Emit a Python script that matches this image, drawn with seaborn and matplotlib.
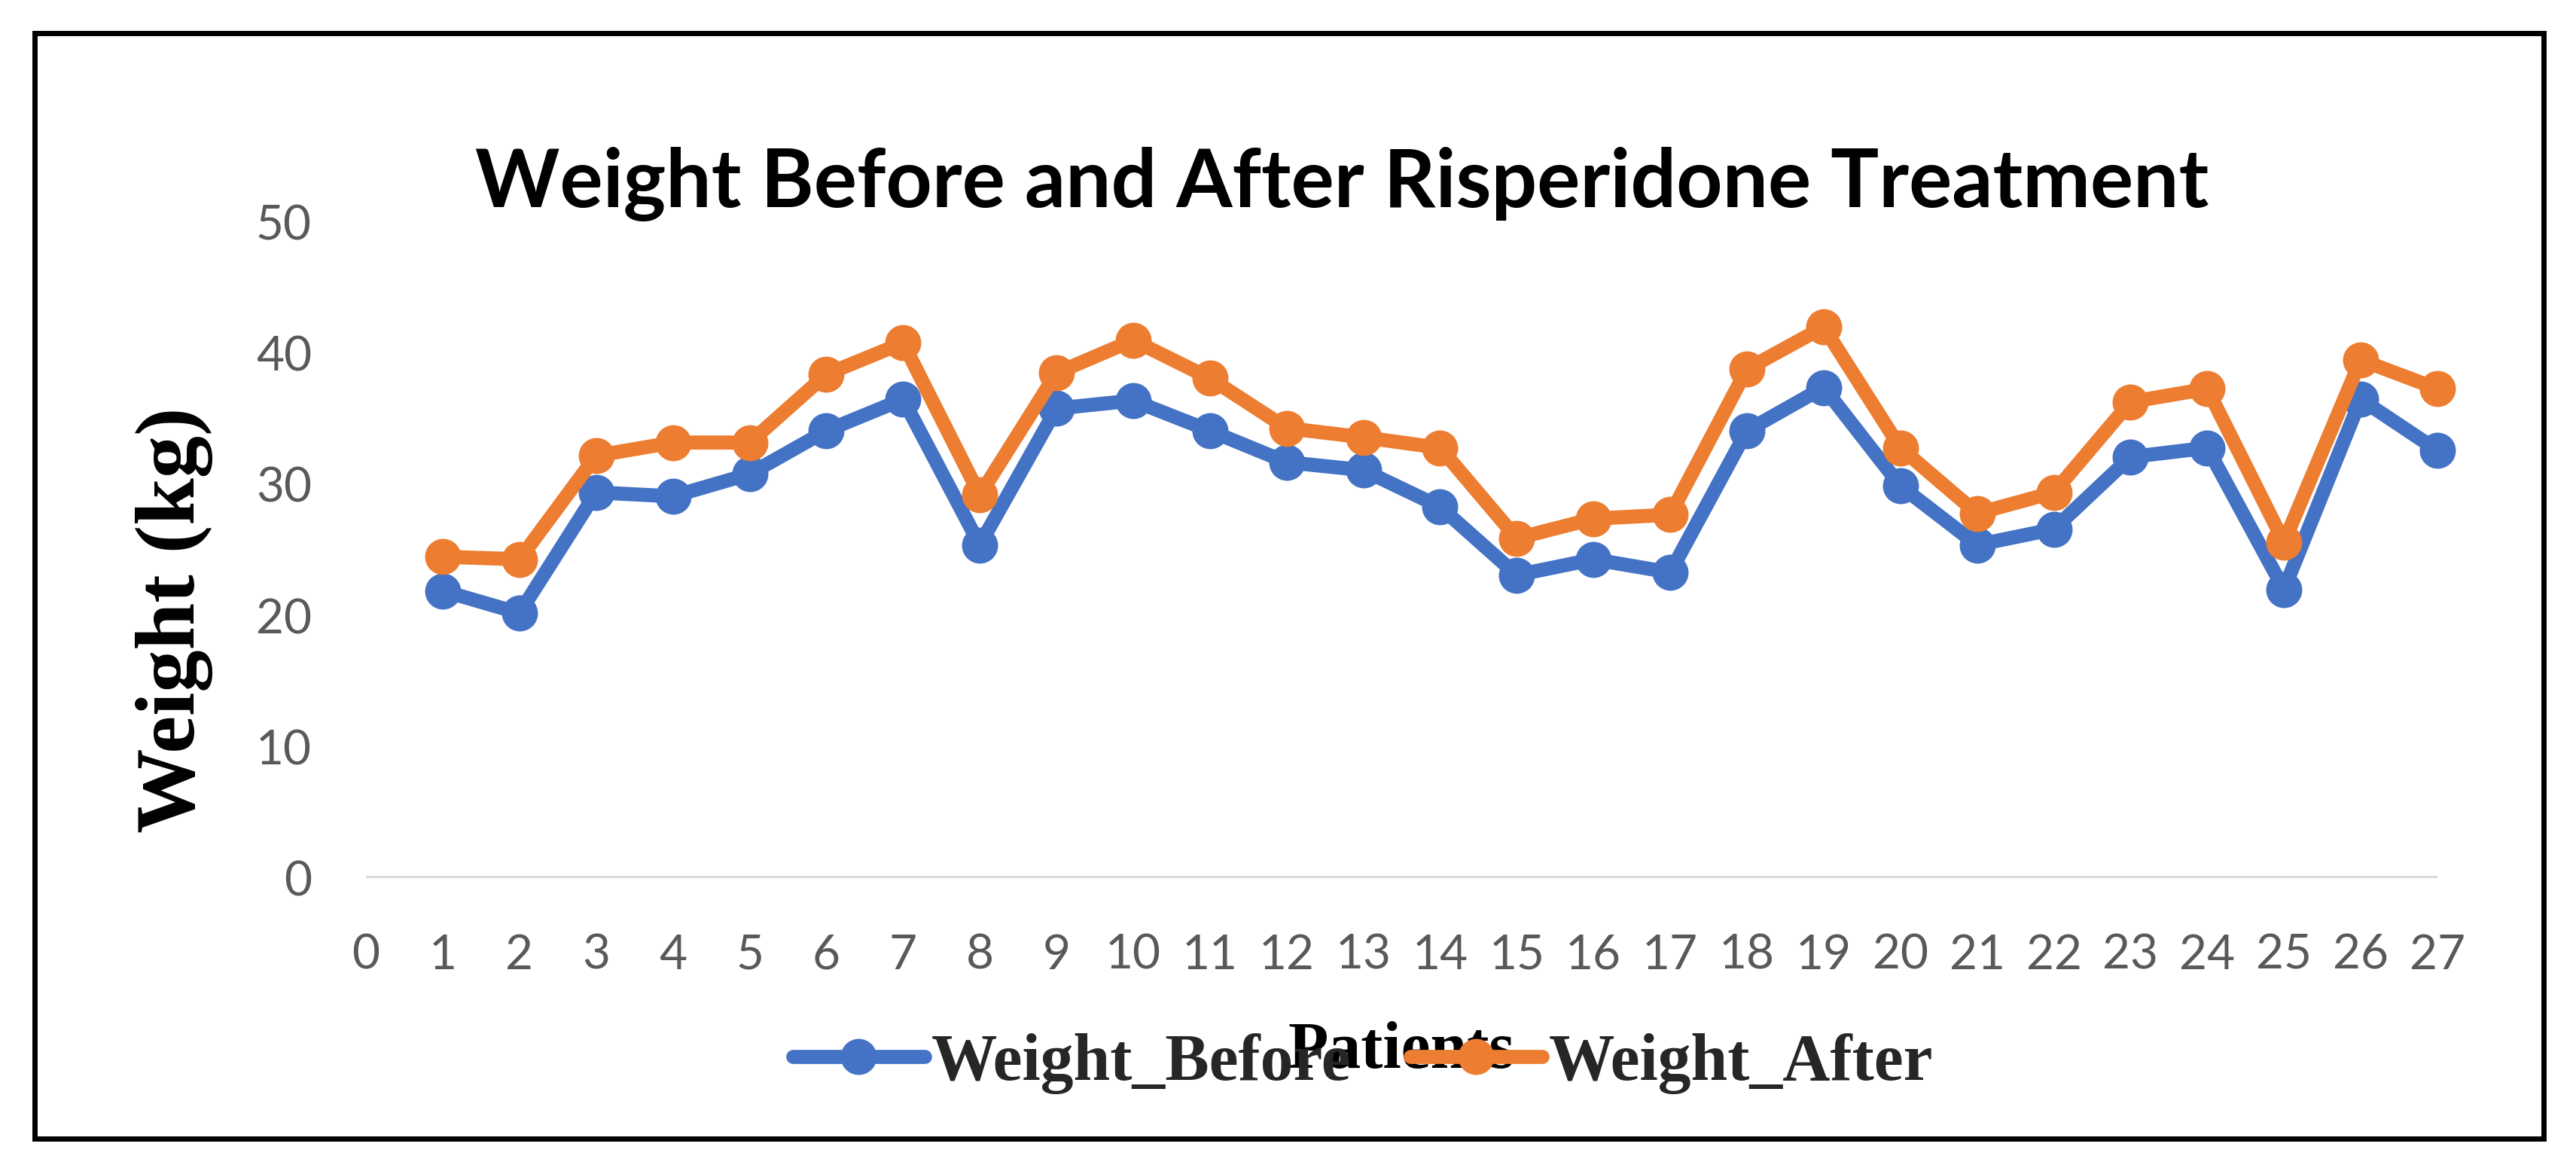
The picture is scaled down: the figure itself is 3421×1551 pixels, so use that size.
import pandas as pd
import seaborn as sns
import matplotlib.pyplot as plt
from matplotlib.lines import Line2D
from matplotlib.patches import Rectangle

patients = list(range(1, 28))
weight_before = [21.9, 20.2, 29.4, 29.1, 30.8, 34.1, 36.5, 25.4, 35.8, 36.4,
                 34.1, 31.7, 31.1, 28.3, 23.1, 24.3, 23.3, 34.1, 37.4, 29.9,
                 25.4, 26.6, 32.1, 32.8, 22.0, 36.5, 32.6]
weight_after = [24.5, 24.3, 32.2, 33.2, 33.2, 38.4, 40.8, 29.2, 38.5, 41.0,
                38.1, 34.3, 33.6, 32.8, 25.9, 27.4, 27.7, 38.8, 42.0, 32.8,
                27.8, 29.4, 36.3, 37.3, 25.6, 39.5, 37.3]
series_names = ['Weight_Before', 'Weight_After']
colors = {'Weight_Before': '#4472C4', 'Weight_After': '#ED7D31'}

df = pd.DataFrame({
    'Patient': patients * 2,
    'Weight': weight_before + weight_after,
    'Series': ['Weight_Before'] * len(patients) + ['Weight_After'] * len(patients),
})

sns.set_style("white")
plt.rcParams['font.family'] = ['Lato', 'DejaVu Sans']

fig = plt.figure(figsize=(34.21, 15.51), dpi=100)
ax = fig.add_axes([0.1421, 0.2482, 0.8041, 0.5616])

ax.axhline(0, color='#D9D9D9', lw=5, zorder=1)
sns.lineplot(data=df, x='Patient', y='Weight', hue='Series', hue_order=series_names,
             palette=colors, marker='o', markersize=34.5, markeredgewidth=0,
             linewidth=13.5, ax=ax, legend=False, zorder=3, clip_on=False)

ax.set_xlim(0, 27)
ax.set_ylim(0, 50)
ax.set_xticks(range(0, 28))
ax.set_yticks(range(0, 51, 10))
ax.tick_params(axis='both', length=0, labelsize=46, labelcolor='#595959')
ax.tick_params(axis='y', pad=52)
ax.tick_params(axis='x', pad=53)
for s in ax.spines.values():
    s.set_visible(False)
ax.set_xlabel('')
ax.set_ylabel('')

fig.text(0.521, 0.8227, 'Weight Before and After Risperidone Treatment',
         ha='center', va='baseline', fontsize=77, fontweight='bold', color='black')

fig.text(0.0676, 0.4694, 'Weight (kg)', rotation=90, ha='center', va='center',
         fontsize=81, fontweight='bold', family='Liberation Serif', color='black')

fig.text(0.544, 0.0858, 'Patients', ha='center', va='baseline', fontsize=63,
         fontweight='bold', family='Liberation Serif', color='black', zorder=1)

handles = [Line2D([], [], color=colors[n], lw=13.5, marker='o', markersize=34.5,
                  markeredgewidth=0) for n in series_names]
leg = fig.legend(handles, series_names, loc='center', bbox_to_anchor=(0.529, 0.0896),
                 ncol=2, frameon=False, handlelength=2.0, handletextpad=0.1,
                 columnspacing=0.9, borderpad=0,
                 prop={'family': 'Liberation Serif', 'weight': 'bold', 'size': 63})
leg.set_zorder(5)

fig.patches.append(Rectangle((0.01345, 0.02515), 0.974, 0.9465, transform=fig.transFigure,
                             fill=False, edgecolor='black', lw=5))

fig.savefig('out.png', dpi=100)
